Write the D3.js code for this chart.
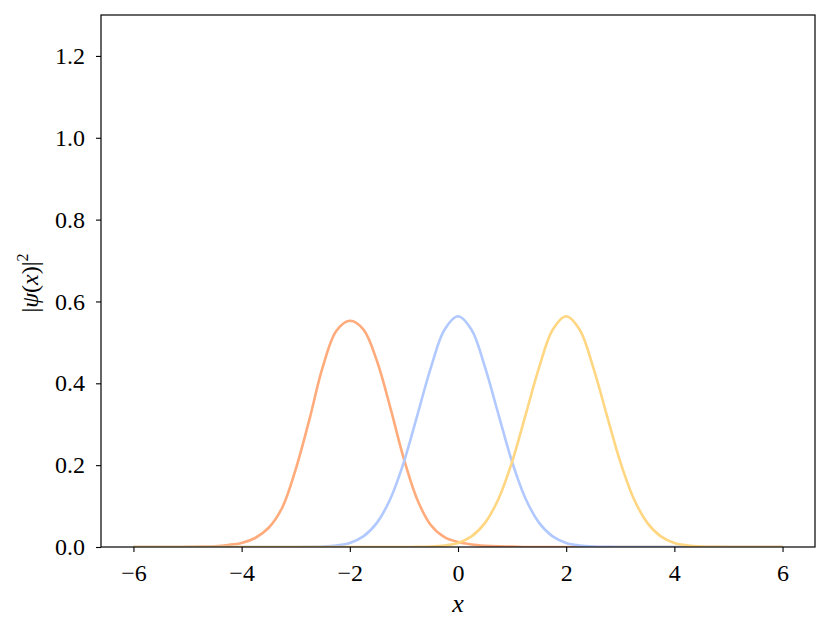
<!DOCTYPE html>
<html>
<head>
<meta charset="utf-8">
<script src="https://cdn.jsdelivr.net/npm/d3@7"></script>
<style>
  body { margin: 0; background: #fff; }
</style>
</head>
<body>
<svg id="chart" width="830" height="633"></svg>
<script>
// x samples (every 0.25)
var xs = [-6, -5.75, -5.5, -5.25, -5, -4.75, -4.5, -4.25, -4, -3.75, -3.5, -3.25, -3, -2.75, -2.5, -2.25, -2,
  -1.75, -1.5, -1.25, -1, -0.75, -0.5, -0.25, 0, 0.25, 0.5, 0.75, 1, 1.25, 1.5, 1.75, 2,
  2.25, 2.5, 2.75, 3, 3.25, 3.5, 3.75, 4, 4.25, 4.5, 4.75, 5, 5.25, 5.5, 5.75, 6];

var orangeVals = [0, 0, 0, 0, 0.0003, 0.001, 0.002, 0.005, 0.010, 0.022, 0.047, 0.096, 0.19, 0.31, 0.44, 0.528, 0.553,
  0.532, 0.455, 0.34, 0.215, 0.115, 0.053, 0.024, 0.012, 0.006, 0.003, 0.0015, 0.001, 0, 0, 0, 0,
  0, 0, 0, 0, 0, 0, 0, 0, 0, 0, 0, 0, 0, 0, 0, 0];

var blueVals = [0, 0, 0, 0, 0, 0, 0, 0, 0, 0, 0, 0.0001, 0.0001, 0.0003, 0.001, 0.0036, 0.010,
  0.026, 0.059, 0.118, 0.208, 0.323, 0.439, 0.531, 0.564, 0.531, 0.439, 0.323, 0.208, 0.118, 0.059, 0.026, 0.010,
  0.0036, 0.001, 0.0003, 0.0001, 0.0001, 0, 0, 0, 0, 0, 0, 0, 0, 0, 0, 0];

var yellowVals = [0, 0, 0, 0, 0, 0, 0, 0, 0, 0, 0, 0, 0, 0, 0, 0, 0,
  0, 0, 0.0001, 0.0001, 0.0003, 0.001, 0.0036, 0.010, 0.026, 0.059, 0.118, 0.208, 0.323, 0.439, 0.531, 0.564,
  0.531, 0.439, 0.323, 0.208, 0.118, 0.059, 0.026, 0.010, 0.0036, 0.001, 0.0003, 0.0001, 0.0001, 0, 0, 0];

var xTicks = [-6, -4, -2, 0, 2, 4, 6];
var yTicks = [0, 0.2, 0.4, 0.6, 0.8, 1.0, 1.2];

var FONT = "'Liberation Serif', 'DejaVu Serif', serif";

var svg = d3.select("#chart");
var margin = { left: 101, right: 15, top: 15, bottom: 86 };
var W = 830, H = 633;

var x = d3.scaleLinear().domain([-6.6, 6.6]).range([margin.left, W - margin.right]);
var y = d3.scaleLinear().domain([0, 1.3]).range([H - margin.bottom, margin.top]);

svg.append("defs").append("clipPath").attr("id", "clip")
  .append("rect")
  .attr("x", margin.left).attr("y", margin.top)
  .attr("width", W - margin.left - margin.right)
  .attr("height", H - margin.top - margin.bottom);

var line = d3.line()
  .x(function (d) { return x(d[0]); })
  .y(function (d) { return y(d[1]); })
  .curve(d3.curveCatmullRom.alpha(0.5));

var series = [
  { vals: orangeVals, color: "#ffab7b" },
  { vals: blueVals, color: "#b1c9ff" },
  { vals: yellowVals, color: "#ffd681" }
];

var g = svg.append("g").attr("clip-path", "url(#clip)");
series.forEach(function (s) {
  g.append("path")
    .datum(xs.map(function (v, i) { return [v, s.vals[i]]; }))
    .attr("fill", "none")
    .attr("stroke", s.color)
    .attr("stroke-width", 2.6)
    .attr("d", line);
});

// axes
var xAxis = svg.append("g")
  .attr("transform", "translate(0," + (H - margin.bottom) + ")")
  .call(d3.axisBottom(x).tickValues(xTicks).tickSize(5).tickPadding(12)
    .tickFormat(function (d) { return d < 0 ? "\u2212" + Math.abs(d) : d; }));
var yAxis = svg.append("g")
  .attr("transform", "translate(" + margin.left + ",0)")
  .call(d3.axisLeft(y).tickValues(yTicks).tickSize(5).tickPadding(11).tickFormat(d3.format(".1f")));

[xAxis, yAxis].forEach(function (a) {
  a.attr("font-family", FONT).attr("font-size", 24);
  a.select(".domain").remove();
  a.selectAll("line").attr("stroke", "#000").attr("stroke-width", 1.1);
  a.selectAll("text").attr("fill", "#000");
});

svg.append("rect")
  .attr("x", margin.left).attr("y", margin.top)
  .attr("width", W - margin.left - margin.right)
  .attr("height", H - margin.top - margin.bottom)
  .attr("fill", "none").attr("stroke", "#000").attr("stroke-width", 1.2);

// labels
svg.append("text")
  .attr("x", x(0)).attr("y", 612)
  .attr("text-anchor", "middle")
  .attr("font-family", FONT)
  .attr("font-size", 26).attr("font-style", "italic")
  .text("x");

var yl = svg.append("text")
  .attr("transform", "translate(38," + y(0.645) + ") rotate(-90)")
  .attr("text-anchor", "middle")
  .attr("font-family", FONT)
  .attr("font-size", 24);
yl.append("tspan").text("|");
yl.append("tspan").attr("font-style", "italic").text("\u03c8");
yl.append("tspan").text("(");
yl.append("tspan").attr("font-style", "italic").text("x");
yl.append("tspan").text(")|");
yl.append("tspan").attr("font-size", 16).attr("dy", -10).text("2");
</script>
</body>
</html>
